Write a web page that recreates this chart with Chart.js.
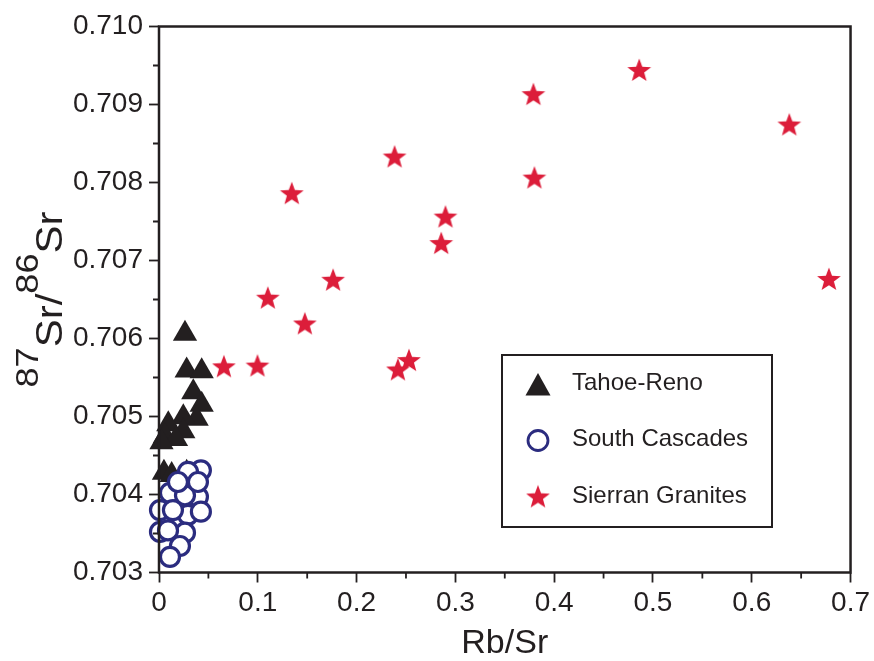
<!DOCTYPE html>
<html>
<head>
<meta charset="utf-8">
<script src="https://cdn.jsdelivr.net/npm/chart.js@4/dist/chart.umd.min.js"></script>
<style>
  body { margin: 0; background: #fff; }
  #chart { display: block; }
</style>
</head>
<body>
<canvas id="chart" width="874" height="661"></canvas>
<script>
// Data
const seriesNames = ['Tahoe-Reno', 'South Cascades', 'Sierran Granites'];

const tahoeRbSr = [0.0263, 0.0280, 0.0432, 0.0347, 0.0432, 0.0381, 0.0246, 0.0094, 0.0246, 0.0061, 0.0172, 0.0025, 0.0050, 0.0128, 0.0280];
const tahoeSr = [0.70606, 0.70559, 0.70558, 0.70531, 0.70515, 0.70497, 0.70499, 0.70490, 0.70481, 0.70475, 0.70471, 0.70467, 0.70428, 0.70425, 0.70428];

// back circles first, front circles last
const cascadesRbSr = [0.0424, 0.0293, 0.0111, 0.0394, 0.0263, 0.0010, 0.0293, 0.0010, 0.0263, 0.0212, 0.0192, 0.0394, 0.0424, 0.0141, 0.0091, 0.0111];
const cascadesSr = [0.70431, 0.70429, 0.70402, 0.70397, 0.70399, 0.70380, 0.70374, 0.70352, 0.70351, 0.70334, 0.70416, 0.70416, 0.70378, 0.70380, 0.70354, 0.70320];

const sierranRbSr = [0.0657, 0.0997, 0.1102, 0.1344, 0.1476, 0.1762, 0.2385, 0.2418, 0.2530, 0.2857, 0.2900, 0.3790, 0.3800, 0.4861, 0.6380, 0.6781];
const sierranSr = [0.70563, 0.70564, 0.70651, 0.70785, 0.70618, 0.70674, 0.70832, 0.70559, 0.70571, 0.70721, 0.70755, 0.70912, 0.70805, 0.70943, 0.70873, 0.70675];

const xTickLabels = ['0', '0.1', '0.2', '0.3', '0.4', '0.5', '0.6', '0.7'];
const yTickLabels = ['0.703', '0.704', '0.705', '0.706', '0.707', '0.708', '0.709', '0.710'];

const INK = '#231f20';
const NAVY = '#2b2c7f';
const RED = '#dc1d3a';
const FONT = '"Liberation Sans", Arial, Helvetica, sans-serif';

// filled five-point star used as a point style
function makeStar(size, outer, inner) {
    const c = document.createElement('canvas');
    c.width = size;
    c.height = size;
    const g = c.getContext('2d');
    g.fillStyle = RED;
    g.beginPath();
    for (let i = 0; i < 10; i++) {
        const r = i % 2 ? inner : outer;
        const a = -Math.PI / 2 + i * Math.PI / 5;
        g.lineTo(size / 2 + r * Math.cos(a), size / 2 + r * Math.sin(a));
    }
    g.closePath();
    g.fill();
    return c;
}
const starImg = makeStar(28, 12.5, 5.2);

const toPoints = (xs, ys) => xs.map((x, i) => ({ x: x, y: ys[i] }));

// minor ticks, box frame, y title with superscripts, legend box
const decorations = {
    id: 'decorations',
    afterDraw(chart) {
        const ctx = chart.ctx;
        const a = chart.chartArea;
        const xs = chart.scales.x;
        const ys = chart.scales.y;
        ctx.save();
        ctx.strokeStyle = INK;

        // minor ticks
        ctx.lineWidth = 1.8;
        ctx.beginPath();
        for (let i = 0; i < xs.ticks.length - 1; i++) {
            const px = xs.getPixelForValue((xs.ticks[i].value + xs.ticks[i + 1].value) / 2);
            ctx.moveTo(px, a.bottom);
            ctx.lineTo(px, a.bottom + 6);
        }
        for (let i = 0; i < ys.ticks.length - 1; i++) {
            const py = ys.getPixelForValue((ys.ticks[i].value + ys.ticks[i + 1].value) / 2);
            ctx.moveTo(a.left, py);
            ctx.lineTo(a.left - 6, py);
        }
        ctx.stroke();

        // frame
        ctx.lineWidth = 2.5;
        ctx.strokeRect(a.left, a.top, a.right - a.left, a.bottom - a.top);

        // y axis title: 87Sr/86Sr, stretched a little along its length like the original
        const big = '36px ' + FONT;
        const sup = '31px ' + FONT;
        const parts = [['87', sup, -24], ['Sr/', big, 0], ['86', sup, -24], ['Sr', big, 0]];
        let total = 0;
        parts.forEach(p => { ctx.font = p[1]; total += ctx.measureText(p[0]).width; });
        ctx.translate(62, (a.top + a.bottom) / 2);
        ctx.rotate(-Math.PI / 2);
        ctx.scale(176 / total, 1);
        ctx.fillStyle = INK;
        ctx.textBaseline = 'alphabetic';
        ctx.textAlign = 'left';
        let tx = -total / 2;
        parts.forEach(p => {
            ctx.font = p[1];
            ctx.fillText(p[0], tx, p[2]);
            tx += ctx.measureText(p[0]).width;
        });
        ctx.restore();

        // legend
        ctx.save();
        ctx.strokeStyle = INK;
        ctx.lineWidth = 2;
        ctx.strokeRect(502, 355, 270, 172);
        const mx = 538;
        const rows = [390, 446, 503];

        ctx.fillStyle = INK;
        ctx.beginPath();
        ctx.moveTo(mx, 373);
        ctx.lineTo(mx + 12.5, 395.5);
        ctx.lineTo(mx - 12.5, 395.5);
        ctx.closePath();
        ctx.fill();

        ctx.fillStyle = '#fff';
        ctx.strokeStyle = NAVY;
        ctx.lineWidth = 2.8;
        ctx.beginPath();
        ctx.arc(mx, 440.5, 10, 0, Math.PI * 2);
        ctx.fill();
        ctx.stroke();

        ctx.drawImage(starImg, mx - starImg.width / 2, 497.5 - starImg.height / 2);

        ctx.fillStyle = INK;
        ctx.font = '24px ' + FONT;
        ctx.textBaseline = 'alphabetic';
        seriesNames.forEach((name, i) => ctx.fillText(name, 572, rows[i]));
        ctx.restore();
    }
};

const chart = new Chart(document.getElementById('chart'), {
    type: 'scatter',
    data: {
        datasets: [
            {
                label: seriesNames[0],
                data: toPoints(tahoeRbSr, tahoeSr),
                pointStyle: 'triangle',
                pointRadius: 14,
                backgroundColor: INK,
                borderWidth: 0,
                clip: false,
                order: 3
            },
            {
                label: seriesNames[1],
                data: toPoints(cascadesRbSr, cascadesSr),
                pointStyle: 'circle',
                pointRadius: 9.5,
                backgroundColor: '#fff',
                borderColor: NAVY,
                borderWidth: 3.2,
                clip: false,
                order: 2
            },
            {
                label: seriesNames[2],
                data: toPoints(sierranRbSr, sierranSr),
                pointStyle: starImg,
                pointRadius: 12,
                clip: false,
                order: 1
            }
        ]
    },
    options: {
        responsive: false,
        animation: false,
        events: [],
        layout: { padding: { top: 26.5, right: 21, bottom: 0, left: 0 } },
        plugins: {
            legend: { display: false },
            tooltip: { enabled: false }
        },
        scales: {
            x: {
                type: 'linear',
                min: 0,
                max: 0.7,
                afterFit: s => { s.height = 88.5; },
                ticks: {
                    stepSize: 0.1,
                    callback: (v, i) => xTickLabels[i],
                    color: INK,
                    font: { family: FONT, size: 28 },
                    padding: 4,
                    maxRotation: 0
                },
                grid: {
                    drawOnChartArea: false,
                    tickLength: 10,
                    tickWidth: 1.8,
                    tickColor: INK
                },
                border: { display: false },
                title: {
                    display: true,
                    text: 'Rb/Sr',
                    color: INK,
                    font: { family: FONT, size: 34, lineHeight: 1 },
                    padding: 0
                }
            },
            y: {
                type: 'linear',
                min: 0.703,
                max: 0.710,
                afterFit: s => { s.width = 159; },
                ticks: {
                    stepSize: 0.001,
                    callback: (v, i) => yTickLabels[i],
                    color: INK,
                    font: { family: FONT, size: 28 },
                    padding: 6
                },
                grid: {
                    drawOnChartArea: false,
                    tickLength: 10,
                    tickWidth: 1.8,
                    tickColor: INK
                },
                border: { display: false }
            }
        }
    },
    plugins: [decorations]
});
</script>
</body>
</html>
